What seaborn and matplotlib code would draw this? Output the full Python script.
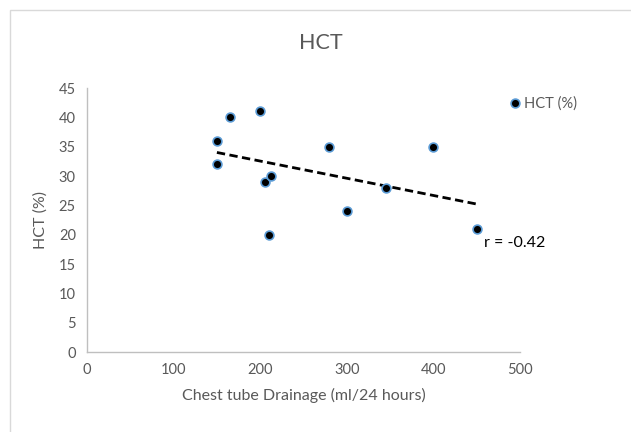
import numpy as np
import pandas as pd
import seaborn as sns
import matplotlib.pyplot as plt
from matplotlib.patches import Rectangle

drainage = [150, 150, 165, 200, 205, 212, 210, 280, 300, 345, 400, 450]
hct = [36, 32, 40, 41, 29, 30, 20, 35, 24, 28, 35, 21]
x_ticks = [0, 100, 200, 300, 400, 500]
y_ticks = [0, 5, 10, 15, 20, 25, 30, 35, 40, 45]

df = pd.DataFrame({"Chest tube Drainage (ml/24 hours)": drainage, "HCT (%)": hct})

sns.set_theme(style="white")
plt.rcParams['font.family'] = ['Lato', 'DejaVu Sans']
gray = "#595959"

fig = plt.figure(figsize=(6.31, 4.32), dpi=100)
ax = fig.add_axes([87/631, 80/432, 433/631, 264/432])

sns.scatterplot(data=df, x="Chest tube Drainage (ml/24 hours)", y="HCT (%)", ax=ax,
                color="black", edgecolor="#5B9BD5", linewidth=1.2, s=40, zorder=3,
                label="HCT (%)")
sns.regplot(data=df, x="Chest tube Drainage (ml/24 hours)", y="HCT (%)", ax=ax,
            scatter=False, ci=None, truncate=True,
            line_kws=dict(color="black", linestyle=(0, (3, 1.6)), linewidth=2))

ax.set_xlim(0, 500)
ax.set_ylim(0, 45)
ax.set_xticks(x_ticks)
ax.set_yticks(y_ticks)
ax.tick_params(colors=gray, labelsize=10.5, length=0, pad=8)
for s in ["top", "right"]:
    ax.spines[s].set_visible(False)
for s in ["left", "bottom"]:
    ax.spines[s].set_color("#BFBFBF")
    ax.spines[s].set_linewidth(1)
ax.set_xlabel("Chest tube Drainage (ml/24 hours)", color=gray, fontsize=11.5, labelpad=8)
ax.set_ylabel("HCT (%)", color=gray, fontsize=11.5, labelpad=8)

leg = ax.legend(loc="upper left", bbox_to_anchor=(0.972, 0.97), frameon=False,
                borderaxespad=0, borderpad=0,
                handletextpad=0.1, handlelength=1.0, fontsize=10.5)
for t in leg.get_texts():
    t.set_color(gray)

ax.text(458, 18.6, "r = -0.42", color="black", fontsize=11.5, va="center", ha="left")

fig.text(0.508, 0.9, "HCT", ha="center", va="center", color=gray, fontsize=15.5)
fig.patches.append(Rectangle((10/631, -0.05), 1.2, (432-10)/432 + 0.05,
                             transform=fig.transFigure, fill=False,
                             edgecolor="#D9D9D9", linewidth=1))
fig.savefig("out.png", dpi=100)
